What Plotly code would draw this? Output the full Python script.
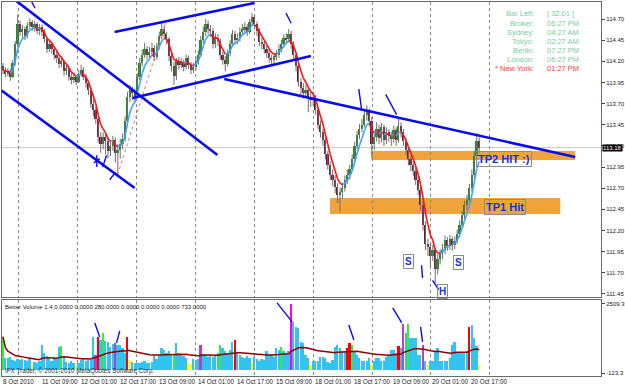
import plotly.graph_objects as go
import pandas as pd

# ---------------- data (H1 bars, USDJPY-like) ----------------
OPEN = [114.14,114.10,114.05,114.08,114.02,114.18,114.40,114.64,114.55,114.58,
        114.50,114.62,114.66,114.60,114.64,114.56,114.60,114.55,114.46,114.34,
        114.40,114.35,114.28,114.24,114.17,114.20,114.08,114.12,114.02,113.98,
        114.01,113.96,114.05,114.10,114.02,113.94,113.86,113.70,113.62,113.52,
        113.30,113.22,113.30,113.26,113.14,113.20,113.27,113.12,113.15,113.22,
        113.28,113.50,113.78,113.86,113.82,113.80,114.02,114.18,114.28,114.34,
        114.28,114.31,114.36,114.25,114.38,114.50,114.58,114.52,114.46,114.26,
        114.15,114.03,114.20,114.16,114.19,114.13,114.24,114.16,114.10,114.13,
        114.20,114.28,114.45,114.55,114.64,114.58,114.56,114.40,114.48,114.44,
        114.27,114.22,114.17,114.30,114.40,114.52,114.45,114.48,114.55,114.58,
        114.60,114.55,114.66,114.72,114.64,114.56,114.43,114.40,114.35,114.30,
        114.24,114.21,114.26,114.28,114.35,114.40,114.48,114.46,114.52,114.40,
        114.28,114.14,113.96,113.88,113.83,113.86,113.78,113.74,113.77,113.62,
        113.45,113.36,113.27,113.10,112.98,112.86,112.80,112.72,112.62,112.66,
        112.70,112.80,112.86,112.93,113.04,113.20,113.33,113.40,113.45,113.56,
        113.60,113.50,113.22,113.30,113.40,113.29,113.42,113.27,113.36,113.32,
        113.28,113.39,113.27,113.44,113.36,113.26,113.15,113.04,112.97,112.90,
        112.80,112.68,112.50,112.27,112.04,112.00,111.90,111.97,111.74,111.86,
        111.92,111.97,112.09,112.02,112.10,112.03,112.08,112.16,112.27,112.38,
        112.50,112.56,112.70,112.86,113.08,113.26]
HIGH = [114.18,114.13,114.12,114.11,114.22,114.44,114.75,114.68,114.63,114.61,
        114.66,114.71,114.69,114.68,114.66,114.64,114.63,114.58,114.49,114.45,
        114.43,114.38,114.33,114.27,114.25,114.22,114.17,114.15,114.06,114.06,
        114.04,114.10,114.16,114.13,114.05,113.97,113.89,113.75,113.66,113.55,
        113.36,113.36,113.35,113.30,113.27,113.32,113.30,113.22,113.28,113.35,
        113.55,113.84,113.92,113.90,113.88,114.06,114.24,114.34,114.42,114.38,
        114.37,114.42,114.39,114.42,114.55,114.66,114.62,114.55,114.49,114.30,
        114.19,114.24,114.25,114.24,114.22,114.28,114.27,114.19,114.18,114.25,
        114.33,114.50,114.61,114.70,114.68,114.63,114.59,114.53,114.52,114.47,
        114.31,114.26,114.34,114.45,114.57,114.56,114.53,114.60,114.64,114.66,
        114.64,114.70,114.77,114.75,114.67,114.59,114.48,114.44,114.39,114.33,
        114.28,114.30,114.33,114.40,114.45,114.52,114.53,114.58,114.56,114.44,
        114.31,114.18,114.00,113.94,113.92,113.90,113.84,113.83,113.80,113.66,
        113.50,113.40,113.30,113.14,113.02,112.92,112.85,112.76,112.71,112.76,
        112.85,112.92,112.98,113.10,113.25,113.38,113.46,113.52,113.62,113.68,
        113.64,113.54,113.38,113.48,113.45,113.47,113.45,113.42,113.40,113.37,
        113.44,113.42,113.52,113.48,113.40,113.30,113.19,113.08,113.02,112.95,
        112.85,112.72,112.55,112.31,112.10,112.05,112.03,112.00,111.92,111.98,
        112.04,112.14,112.12,112.15,112.13,112.13,112.21,112.32,112.43,112.55,
        112.62,112.75,112.92,113.14,113.35,113.30]
LOW = [114.05,114.01,114.02,113.97,114.00,114.15,114.37,114.50,114.48,114.45,
       114.47,114.58,114.56,114.55,114.52,114.51,114.50,114.42,114.30,114.31,
       114.29,114.22,114.18,114.12,114.13,114.03,114.04,113.97,113.93,113.94,
       113.92,113.94,114.02,113.98,113.89,113.80,113.65,113.55,113.46,113.24,
       113.12,113.16,113.10,113.05,113.08,113.14,113.00,112.86,113.05,113.16,
       113.25,113.46,113.72,113.74,113.72,113.76,113.98,114.14,114.24,114.22,
       114.23,114.26,114.20,114.22,114.34,114.46,114.47,114.40,114.20,114.08,
       113.92,113.98,114.10,114.12,114.08,114.10,114.11,114.05,114.06,114.09,
       114.16,114.25,114.41,114.50,114.52,114.49,114.35,114.36,114.38,114.22,
       114.16,114.08,114.14,114.26,114.37,114.40,114.40,114.43,114.50,114.53,
       114.50,114.52,114.62,114.58,114.50,114.38,114.34,114.29,114.24,114.18,
       114.15,114.17,114.21,114.24,114.31,114.36,114.41,114.42,114.35,114.22,
       114.08,113.90,113.80,113.76,113.78,113.60,113.66,113.68,113.57,113.40,
       113.30,113.20,113.04,112.92,112.80,112.72,112.64,112.52,112.42,112.58,
       112.66,112.75,112.80,112.90,113.00,113.16,113.28,113.36,113.42,113.50,
       113.44,113.05,113.15,113.25,113.22,113.24,113.20,113.22,113.25,113.20,
       113.24,113.20,113.24,113.30,113.20,113.09,112.97,112.90,112.84,112.74,
       112.62,112.44,112.20,111.97,111.90,111.76,111.84,111.58,111.68,111.80,
       111.86,111.92,111.96,111.97,111.96,111.98,112.04,112.12,112.23,112.34,
       112.44,112.50,112.66,112.82,113.02,113.12]
CLOSE = [114.10,114.05,114.08,114.02,114.18,114.40,114.64,114.55,114.58,114.50,
         114.62,114.66,114.60,114.64,114.56,114.60,114.55,114.46,114.34,114.40,
         114.35,114.28,114.24,114.17,114.20,114.08,114.12,114.02,113.98,114.01,
         113.96,114.05,114.10,114.02,113.94,113.86,113.70,113.62,113.52,113.30,
         113.22,113.30,113.26,113.14,113.20,113.27,113.12,113.15,113.22,113.28,
         113.50,113.78,113.86,113.82,113.80,114.02,114.18,114.28,114.34,114.28,
         114.31,114.36,114.25,114.38,114.50,114.58,114.52,114.46,114.26,114.15,
         114.03,114.20,114.16,114.19,114.13,114.24,114.16,114.10,114.13,114.20,
         114.28,114.45,114.55,114.64,114.58,114.56,114.40,114.48,114.44,114.27,
         114.22,114.17,114.30,114.40,114.52,114.45,114.48,114.55,114.58,114.60,
         114.55,114.66,114.72,114.64,114.56,114.43,114.40,114.35,114.30,114.24,
         114.21,114.26,114.28,114.35,114.40,114.48,114.46,114.52,114.40,114.28,
         114.14,113.96,113.88,113.83,113.86,113.78,113.74,113.77,113.62,113.45,
         113.36,113.27,113.10,112.98,112.86,112.80,112.72,112.62,112.66,112.70,
         112.80,112.86,112.93,113.04,113.20,113.33,113.40,113.45,113.56,113.60,
         113.50,113.22,113.30,113.40,113.29,113.42,113.27,113.36,113.32,113.28,
         113.39,113.27,113.44,113.36,113.26,113.15,113.04,112.97,112.90,112.80,
         112.68,112.50,112.27,112.04,112.00,111.90,111.97,111.74,111.86,111.92,
         111.97,112.09,112.02,112.10,112.03,112.08,112.16,112.27,112.38,112.50,
         112.56,112.70,112.86,113.08,113.26,113.18]
VOLUME = [1260,440,470,500,380,340,420,360,420,380,
          320,400,180,300,260,330,950,640,520,440,
          330,450,400,860,890,500,300,260,330,280,
          160,270,380,400,350,380,360,1260,560,1260,
          1130,1390,1100,1070,880,1000,1010,950,950,820,
          630,1260,380,300,280,250,260,300,340,280,
          250,300,520,420,560,820,760,650,700,580,
          620,1010,640,560,520,450,250,230,430,380,
          410,950,620,560,480,560,500,560,630,950,
          820,700,620,760,1070,1140,630,560,500,440,
          520,470,250,480,400,350,420,380,700,560,
          620,500,820,760,880,700,640,700,2509,1830,
          1640,1580,1070,1010,570,440,190,320,320,330,
          500,500,440,300,270,380,880,950,820,700,
          690,820,1010,950,700,560,440,330,330,330,
          440,190,330,440,440,330,330,500,560,760,
          760,640,900,820,1730,1390,1730,1200,1200,1200,
          580,580,950,320,190,320,320,690,820,320,
          320,330,320,440,950,1070,690,690,690,690,
          700,1640,1700,1200,890,190]
VOL_KIND = list("gbbbbbbbbb" "bbybbbbbbb" "bbbbgbbbbb" "ybbbbbbbpr"
                "bgbbbbpbbb" "bryybbbbbb" "bbbbbbbbbb" "gbbbbbyybb"
                "bpbbbbbbbg" "bbbbbrbbbb" "bbybbbbbbb" "bbbbgbbbmb"
                "bbbbbbybbb" "bbbbbbbbbb" "brrgbbbbbb" "bybbbbbbbb"
                "bbrbpbgbbb" "bbpbybbbbb" "bbbbbbbbbb" "brbbby")
VOL_KIND[52] = "y"
VOL_KIND[53] = "b"

PRICE_TICKS = [114.70, 114.45, 114.20, 113.95, 113.70, 113.45, 113.20,
               112.95, 112.70, 112.45, 112.20, 111.95, 111.70, 111.45]
GRID_BARS = [6.5, 30.6, 54.7, 78.8, 102.9, 127.0, 151.1, 175.2, 199.2]
TIME_LABELS = ["8 Oct 2010", "11 Oct 09:00", "12 Oct 01:00", "12 Oct 17:00",
               "13 Oct 09:00", "14 Oct 01:00", "14 Oct 17:00", "15 Oct 09:00",
               "18 Oct 01:00", "18 Oct 17:00", "19 Oct 09:00", "20 Oct 01:00",
               "20 Oct 17:00"]
TIME_LABEL_BARS = [0, 15, 31, 47, 63, 79, 95, 111, 127, 143, 159, 175, 191]

# drawn objects: (bar, price) endpoints
TRENDLINES = [((4.9, 114.925), (87.8, 113.092)),
              ((-1.2, 113.867), (53.9, 112.702)),
              ((45.7, 114.546), (102.9, 114.889)),
              ((53.1, 113.766), (126.1, 114.263)),
              ((90.6, 113.991), (234.3, 113.069))]
SMALL_MARKS = [((11.8, 114.90), (13.1, 114.83)),
               ((115.9, 114.77), (118.0, 114.65)),
               ((145.7, 113.87), (146.9, 113.62)),
               ((156.7, 113.81), (161.2, 113.57)),
               ((171.4, 111.79), (171.8, 111.64)),
               ((175.9, 111.61), (178.4, 111.50)),
               ((38.4, 113.09), (38.4, 112.95)),
               ((37.2, 113.00), (39.6, 113.05)),
               ((40.8, 112.95), (42.4, 113.09)),
               ((43.7, 112.80), (46.1, 112.89))]
ZIGZAG = ((46.9, 112.856), (66.9, 114.688))
ZONES = [(133.9, 228.2, 112.395, 112.584), (151.0, 234.3, 113.033, 113.140)]
VOL_MARKS = [((37.6, 1781), (39.6, 1251)), ((46.5, 1023), (47.8, 1478)),
             ((112.2, 2539), (118.4, 1819)), ((141.6, 1705), (143.7, 1137)),
             ((159.6, 2350), (163.3, 1781)), ((171.0, 1630), (171.8, 1061))]
BOX_LABELS = [("TP2 HIT :)", 205.1, 113.045, 11), ("TP1 Hit", 205.5, 112.478, 11),
              ("S", 166.1, 111.834, 10), ("S", 186.5, 111.82, 10),
              ("H", 179.8, 111.48, 10)]
INFO = [("Bar Left:", "[ 32:01 ]"), ("Broker:", "06:27 PM"), ("Sydney:", "04:27 AM"),
        ("Tokyo:", "02:27 AM"), ("Berlin:", "07:27 PM"), ("London:", "06:27 PM"),
        ("* New York:", "01:27 PM")]
LAST_PRICE = 113.18

# ---------------- figure ----------------
W, H = 625, 387
n = len(CLOSE)
bars = list(range(n))
FONT = "Liberation Sans"

fig = go.Figure()

for x0, x1, y0, y1 in ZONES:
    fig.add_shape(type="rect", xref="x", yref="y", x0=x0, x1=x1, y0=y0, y1=y1,
                  fillcolor="#F2A43C", line_width=0, layer="below")
fig.add_shape(type="line", xref="x domain", yref="y", x0=0, x1=1,
              y0=LAST_PRICE, y1=LAST_PRICE, line=dict(color="#C8C8C8", width=1),
              layer="below")

# wicks
wx, wy = [], []
for i in bars:
    wx += [i, i, None]
    wy += [LOW[i], HIGH[i], None]
fig.add_trace(go.Scatter(x=wx, y=wy, mode="lines", line=dict(color="#6E6E6E", width=1),
                         hoverinfo="skip", xaxis="x", yaxis="y"))
# bodies
bases = [min(o, c) for o, c in zip(OPEN, CLOSE)]
heights = [max(abs(c - o), 0.012) for o, c in zip(OPEN, CLOSE)]
bcol = ["#1E8F1E" if c >= o else "#7A0E3A" for o, c in zip(OPEN, CLOSE)]
fig.add_trace(go.Bar(x=bars, y=heights, base=bases, marker=dict(color=bcol, line_width=0),
                     width=0.7, xaxis="x", yaxis="y"))

# two-colour moving average
ma = pd.Series(CLOSE).ewm(span=5, adjust=False).mean().tolist()
bx, by, rx, ry = [], [], [], []
for i in range(1, n):
    if ma[i] >= ma[i - 1]:
        bx += [i - 1, i, None]; by += [ma[i - 1], ma[i], None]
    else:
        rx += [i - 1, i, None]; ry += [ma[i - 1], ma[i], None]
fig.add_trace(go.Scatter(x=rx, y=ry, mode="lines", line=dict(color="#FF1010", width=1.6),
                         xaxis="x", yaxis="y"))
fig.add_trace(go.Scatter(x=bx, y=by, mode="lines", line=dict(color="#3FA2FF", width=1.6),
                         xaxis="x", yaxis="y"))

# zigzag dotted
fig.add_trace(go.Scatter(x=[ZIGZAG[0][0], ZIGZAG[1][0]], y=[ZIGZAG[0][1], ZIGZAG[1][1]],
                         mode="lines", line=dict(color="#FF6A6A", width=1, dash="dot"),
                         xaxis="x", yaxis="y"))
# trendlines
for (a, b) in TRENDLINES:
    fig.add_trace(go.Scatter(x=[a[0], b[0]], y=[a[1], b[1]], mode="lines",
                             line=dict(color="#0A0AF0", width=2.6), xaxis="x", yaxis="y"))
for (a, b) in SMALL_MARKS:
    fig.add_trace(go.Scatter(x=[a[0], b[0]], y=[a[1], b[1]], mode="lines",
                             line=dict(color="#0A0AF0", width=1.4), xaxis="x", yaxis="y"))

# volume
kind_col = {"b": "#33C3F0", "y": "#FFFF00", "r": "#FF0000", "g": "#33EE33",
            "m": "#FF00FF", "p": "#B640C8"}
fig.add_trace(go.Bar(x=bars, y=VOLUME, marker=dict(color=[kind_col[k] for k in VOL_KIND],
                     line_width=0), width=0.72, xaxis="x2", yaxis="y2"))
vma = pd.Series(VOLUME, dtype=float).ewm(span=40, adjust=True).mean().tolist()
fig.add_trace(go.Scatter(x=bars, y=vma, mode="lines", line=dict(color="#8B0000", width=1.5),
                         xaxis="x2", yaxis="y2"))
for (a, b) in VOL_MARKS:
    fig.add_trace(go.Scatter(x=[a[0], b[0]], y=[a[1], b[1]], mode="lines",
                             line=dict(color="#0A0AF0", width=1.4), xaxis="x2", yaxis="y2"))

xd = [2 / W, 603 / W]
xr = [-0.41, 244.9]
axis_common = dict(showline=True, mirror=True, linecolor="#6A6A6A", linewidth=1,
                   zeroline=False)
fig.update_layout(
    width=W, height=H, margin=dict(l=0, r=0, t=0, b=0),
    paper_bgcolor="white", plot_bgcolor="white", showlegend=False,
    barmode="overlay", bargap=0,
    font=dict(family=FONT, size=6, color="#202020"),
    xaxis=dict(domain=xd, range=xr, anchor="y", tickvals=GRID_BARS, showticklabels=False,
               ticks="", showgrid=True, gridcolor="#8A8A8A", griddash="dot", gridwidth=1,
               **axis_common),
    yaxis=dict(domain=[(H - 297) / H, (H - 2) / H], range=[111.414, 114.901],
               side="right", anchor="x", tickvals=PRICE_TICKS,
               ticktext=[f"{v:.2f}" for v in PRICE_TICKS], ticks="outside", ticklen=3,
               tickcolor="#404040", showgrid=False, tickfont=dict(size=6, family=FONT),
               **axis_common),
    xaxis2=dict(domain=xd, range=xr, anchor="y2", tickvals=GRID_BARS, showticklabels=False,
                ticks="", showgrid=True, gridcolor="#8A8A8A", griddash="dot", gridwidth=1,
                **axis_common),
    yaxis2=dict(domain=[(H - 376) / H, (H - 300) / H], range=[-230, 2650], side="right",
                anchor="x2", tickvals=[2509.3, -123.3], ticktext=["2509.3", "-123.3"],
                ticks="outside", ticklen=3, tickcolor="#404040", showgrid=False,
                tickfont=dict(size=6, family=FONT), **axis_common),
)

ann = []
# last price tag (covers the 113.20 tick label as in the terminal)
ann.append(dict(xref="paper", yref="y", x=604 / W, y=LAST_PRICE, xanchor="left",
                yanchor="middle", text="113.18", showarrow=False, bgcolor="#000000",
                font=dict(color="white", size=6, family=FONT), borderpad=0))
# time labels
for k, (lab, b) in enumerate(zip(TIME_LABELS, TIME_LABEL_BARS)):
    ann.append(dict(xref="x2", yref="paper", x=b, y=1 - 381 / H, xanchor="left",
                    yanchor="middle", text=lab, showarrow=False,
                    xshift=-2 if k == 0 else 0,
                    font=dict(size=6.3, family=FONT, color="#202020")))
# info block
for k, (lab, val) in enumerate(INFO):
    yy = 1 - (14 + 9.05 * k) / H
    col = "#FF3B3B" if k == len(INFO) - 1 else "#7CCB9C"
    ann.append(dict(xref="paper", yref="paper", x=538 / W, y=yy, xanchor="right",
                    yanchor="middle", text=lab, showarrow=False,
                    font=dict(size=7.5, family=FONT, color=col)))
    ann.append(dict(xref="paper", yref="paper", x=547 / W, y=yy, xanchor="left",
                    yanchor="middle", text=val, showarrow=False,
                    font=dict(size=7.5, family=FONT, color=col)))
# label boxes
for txt, bx_, py_, fs in BOX_LABELS:
    ann.append(dict(xref="x", yref="y", x=bx_, y=py_, text=f"<b>{txt}</b>",
                    showarrow=False, font=dict(size=fs, family=FONT, color="#1430E6"),
                    bordercolor="#8C8C8C", borderwidth=1, borderpad=1))
# indicator caption and copyright
ann.append(dict(xref="paper", yref="paper", x=3 / W, y=1 - 307 / H, xanchor="left",
                yanchor="middle", showarrow=False,
                text="Better Volume 1.4 0.0000 0.0000 280.0000 0.0000 0.0000 0.0000 733.0000",
                font=dict(size=6, family=FONT, color="#202020")))
ann.append(dict(xref="paper", yref="paper", x=3 / W, y=1 - 371 / H, xanchor="left",
                yanchor="middle", showarrow=False,
                text="IFX Trader, © 2001-2010 MetaQuotes Software Corp.",
                font=dict(size=6.3, family=FONT, color="#303030")))
fig.update_layout(annotations=ann)

fig.write_html("out.html")
